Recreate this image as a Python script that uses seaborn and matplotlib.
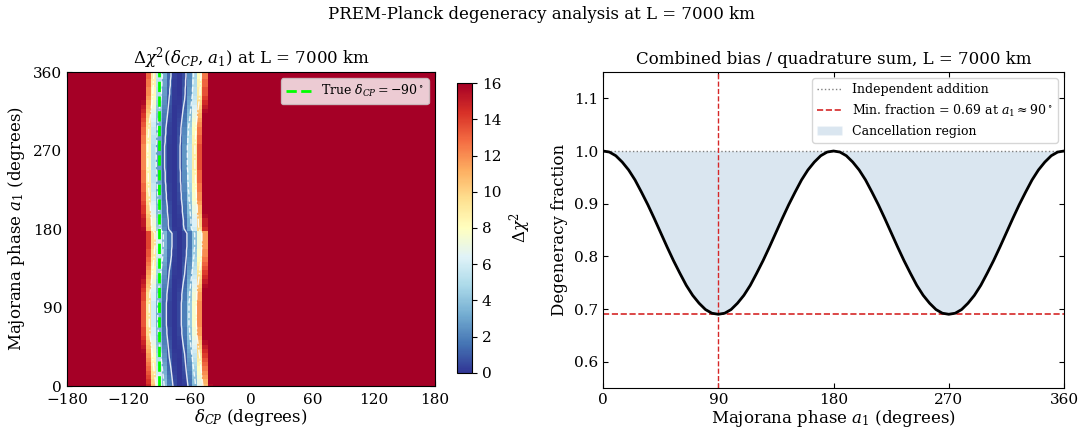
import numpy as np
import matplotlib
matplotlib.use("Agg")
import matplotlib.pyplot as plt
from matplotlib.lines import Line2D
from matplotlib.patches import Patch
import seaborn as sns

# ---- data ----
# heatmap grid (cell centres, degrees)
dcp_grid = np.arange(-180, 181, 5)
a1_grid = np.arange(0, 361, 5)

# best-fit delta_CP for each a1 row (0..360 step 5)
best_dcp = [
    -68.5, -69.0, -69.5, -70.0, -70.5, -71.0, -71.5, -72.0, -72.5, -73.0,
    -73.5, -74.0, -74.5, -74.5, -75.0, -75.0, -75.0, -75.0, -75.0, -75.0,
    -74.5, -74.5, -74.0, -73.5, -73.0, -72.5, -72.0, -71.5, -71.0, -70.5,
    -70.0, -70.0, -69.5, -69.5, -69.5, -69.5,
    -72.5, -73.0, -73.0, -73.5, -74.0, -74.0, -74.5, -75.0, -75.0, -75.5,
    -75.5, -76.0, -76.0, -76.0, -76.5, -76.5, -76.5, -76.5, -76.5, -76.5,
    -76.0, -76.0, -75.5, -75.5, -75.0, -74.5, -74.0, -73.5, -73.0, -72.5,
    -72.0, -71.5, -71.5, -71.0, -71.0, -70.5, -70.5,
]
# 1-sigma widths of the chi2 valley (left / right of the minimum)
sigma_left = 8.2
sigma_right = 7.2
true_dcp = -90

# degeneracy fraction vs Majorana phase (0..360 step 5)
a1_curve = np.arange(0, 361, 5)
half_curve = [1.000, 0.998, 0.991, 0.979, 0.964, 0.945, 0.922, 0.898, 0.872,
              0.845, 0.818, 0.792, 0.768, 0.745, 0.726, 0.711, 0.699, 0.692,
              0.690, 0.692, 0.699, 0.711, 0.726, 0.745, 0.768, 0.792, 0.818,
              0.845, 0.872, 0.898, 0.922, 0.945, 0.964, 0.979, 0.991, 0.998]
frac_curve = half_curve + half_curve + [1.000]
min_frac = 0.69
min_a1 = 90

# build chi2 surface from the read valley positions / widths
best = np.array(best_dcp)[:, None]
d = dcp_grid[None, :] - best
sig = np.where(d < 0, sigma_left, sigma_right)
chi2 = (d / sig) ** 2

sns.set_style("ticks")
plt.rcParams["font.family"] = ["DejaVu Serif"]
plt.rcParams["mathtext.fontset"] = "dejavuserif"
for k in ["text.color", "axes.labelcolor", "xtick.color", "ytick.color", "axes.edgecolor"]:
    plt.rcParams[k] = "black"
plt.rcParams["xtick.direction"] = "in"
plt.rcParams["ytick.direction"] = "in"
plt.rcParams["xtick.top"] = True
plt.rcParams["ytick.right"] = True

fig = plt.figure(figsize=(10.83, 4.33), dpi=100)
ax1 = fig.add_axes([0.0619, 0.1085, 0.3398, 0.7252])
cax = fig.add_axes([0.4220, 0.1386, 0.0139, 0.6697])
ax2 = fig.add_axes([0.5568, 0.1039, 0.4257, 0.7298])

# left: chi2 map
mesh = ax1.pcolormesh(dcp_grid, a1_grid, chi2, cmap="RdYlBu_r", vmin=0, vmax=16,
                      shading="nearest", rasterized=True)
ax1.contour(dcp_grid, a1_grid, chi2, levels=[1, 4, 9], colors="white",
            linestyles=["-", "--", "-."], linewidths=1.0, alpha=0.85)
ax1.axvline(true_dcp, color="lime", ls="--", lw=2,
            label=r"True $\delta_{CP} = -90^\circ$")
ax1.set_xlim(-180, 180)
ax1.set_ylim(0, 360)
ax1.set_xticks([-180, -120, -60, 0, 60, 120, 180])
ax1.set_yticks([0, 90, 180, 270, 360])
ax1.tick_params(labelsize=11)
ax1.tick_params(axis="x", pad=5)
ax1.set_xlabel(r"$\delta_{CP}$ (degrees)", fontsize=12, labelpad=0)
ax1.set_ylabel(r"Majorana phase $a_1$ (degrees)", fontsize=12)
ax1.set_title(r"$\Delta\chi^2(\delta_{CP}$, $a_1)$ at L = 7000 km", fontsize=12)
ax1.legend(loc="upper right", fontsize=9)

cb = fig.colorbar(mesh, cax=cax)
cb.set_ticks(np.arange(0, 17, 2))
cb.ax.tick_params(labelsize=11, direction="out", right=True)
cb.set_label(r"$\Delta\chi^2$", fontsize=12)

# right: degeneracy fraction
ax2.fill_between(a1_curve, frac_curve, 1.0, color="steelblue", alpha=0.2, lw=0)
ax2.axhline(1.0, color="gray", ls=":", lw=1)
ax2.axhline(min_frac, color="tab:red", ls="--", lw=1.2)
ax2.axvline(min_a1, color="tab:red", ls="--", lw=1)
sns.lineplot(x=a1_curve, y=frac_curve, color="black", lw=2, ax=ax2)
ax2.set_xlim(0, 360)
ax2.set_ylim(0.55, 1.15)
ax2.set_xticks([0, 90, 180, 270, 360])
ax2.set_yticks([0.6, 0.7, 0.8, 0.9, 1.0, 1.1])
ax2.tick_params(labelsize=11)
ax2.set_xlabel(r"Majorana phase $a_1$ (degrees)", fontsize=12, labelpad=1)
ax2.set_ylabel("Degeneracy fraction", fontsize=12)
ax2.set_title("Combined bias / quadrature sum, L = 7000 km", fontsize=12)
handles = [
    Line2D([], [], color="gray", ls=":", lw=1),
    Line2D([], [], color="tab:red", ls="--", lw=1.2),
    Patch(facecolor="steelblue", alpha=0.2),
]
labels = [
    "Independent addition",
    r"Min. fraction = 0.69 at $a_1 \approx 90^\circ$",
    "Cancellation region",
]
ax2.legend(handles, labels, loc="upper right", fontsize=9)

fig.suptitle("PREM-Planck degeneracy analysis at L = 7000 km", fontsize=12, y=0.985)

fig.savefig("out.png", dpi=100)
